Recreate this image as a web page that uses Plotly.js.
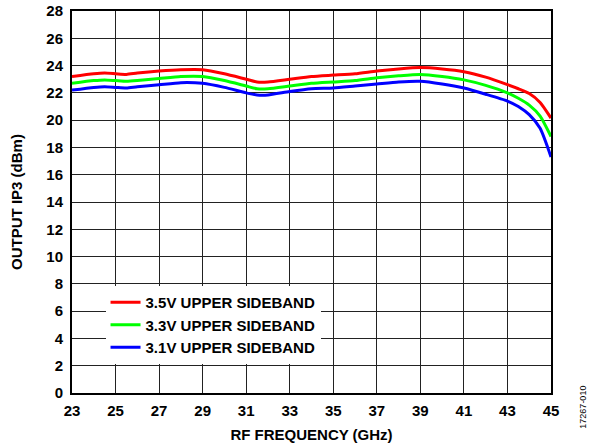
<!DOCTYPE html>
<html>
<head>
<meta charset="utf-8">
<script src="https://cdn.plot.ly/plotly-3.0.1.min.js"></script>
<style>html,body{margin:0;padding:0;background:#fff;}#chart{width:594px;height:446px;}</style>
</head>
<body>
<div id="chart"></div>
<script>
const freq = [23, 24, 24.5, 25, 25.5, 26, 27, 28, 29, 30, 31, 31.5, 32, 33, 34, 35, 36, 37, 38, 39, 40, 41, 42, 43, 43.5, 44, 44.5, 45];
const ip3_35V = [23.2, 23.4, 23.45, 23.4, 23.35, 23.45, 23.6, 23.7, 23.7, 23.4, 23.0, 22.8, 22.8, 23.0, 23.2, 23.3, 23.4, 23.6, 23.75, 23.85, 23.75, 23.55, 23.15, 22.6, 22.3, 21.95, 21.3, 20.15];
const ip3_33V = [22.7, 22.9, 22.95, 22.9, 22.85, 22.9, 23.05, 23.2, 23.2, 22.9, 22.5, 22.3, 22.3, 22.5, 22.7, 22.8, 22.9, 23.1, 23.25, 23.35, 23.2, 22.95, 22.55, 22.0, 21.6, 21.1, 20.3, 18.8];
const ip3_31V = [22.2, 22.4, 22.45, 22.4, 22.35, 22.45, 22.6, 22.75, 22.7, 22.4, 22.0, 21.85, 21.85, 22.1, 22.3, 22.35, 22.5, 22.65, 22.8, 22.85, 22.65, 22.35, 21.9, 21.4, 21.0, 20.4, 19.4, 17.3];
const seriesNames = ["3.5V UPPER SIDEBAND", "3.3V UPPER SIDEBAND", "3.1V UPPER SIDEBAND"];
const seriesColors = ["#ff0000", "#00ff00", "#0000ff"];
const xTickVals = [23, 25, 27, 29, 31, 33, 35, 37, 39, 41, 43, 45];
const yTickVals = [0, 2, 4, 6, 8, 10, 12, 14, 16, 18, 20, 22, 24, 26, 28];

const fam = "Liberation Sans, Arial, sans-serif";
const bold = s => "<b>" + s + "</b>";
const data = [ip3_35V, ip3_33V, ip3_31V].map((y, i) => ({
  x: freq, y: y, type: "scatter", mode: "lines", name: bold(seriesNames[i]),
  line: {color: seriesColors[i], width: 3, shape: "spline", smoothing: 0.6}
}));

const tf = {family: fam, size: 15, color: "#000"};
const layout = {
  width: 594, height: 446,
  margin: {l: 72, r: 43, t: 11, b: 53},
  paper_bgcolor: "#fff", plot_bgcolor: "#fff",
  font: {family: fam, size: 15, color: "#000"},
  showlegend: true,
  legend: {x: 0.07, y: 0.28, xanchor: "left", yanchor: "top", bgcolor: "#fff", borderwidth: 0,
           font: {family: fam, size: 15, color: "#000"}, tracegroupgap: 0},
  xaxis: {
    range: [23, 45], tickmode: "array", tickvals: xTickVals, ticktext: xTickVals.map(v => bold(v)),
    showgrid: true, gridcolor: "#222", gridwidth: 1,
    showline: true, linecolor: "#000", linewidth: 2, mirror: true, zeroline: false,
    ticks: "", ticklabelstandoff: 3, tickfont: tf,
    title: {text: bold("RF FREQUENCY (GHz)"), font: tf, standoff: 11}
  },
  yaxis: {
    range: [0, 28], tickmode: "array", tickvals: yTickVals, ticktext: yTickVals.map(v => bold(v)),
    showgrid: true, gridcolor: "#222", gridwidth: 1,
    showline: true, linecolor: "#000", linewidth: 2, mirror: true, zeroline: false,
    ticks: "", ticklabelstandoff: 4, tickfont: tf,
    title: {text: bold("OUTPUT IP3 (dBm)"), font: tf, standoff: 20}
  },
  annotations: [{
    text: "17267-010", xref: "paper", yref: "paper", x: 1.065, y: -0.038, xanchor: "center", yanchor: "middle",
    textangle: -90, showarrow: false, font: {family: fam, size: 9, color: "#000"}
  }]
};
Plotly.newPlot("chart", data, layout, {displayModeBar: false, staticPlot: true});
</script>
</body>
</html>
